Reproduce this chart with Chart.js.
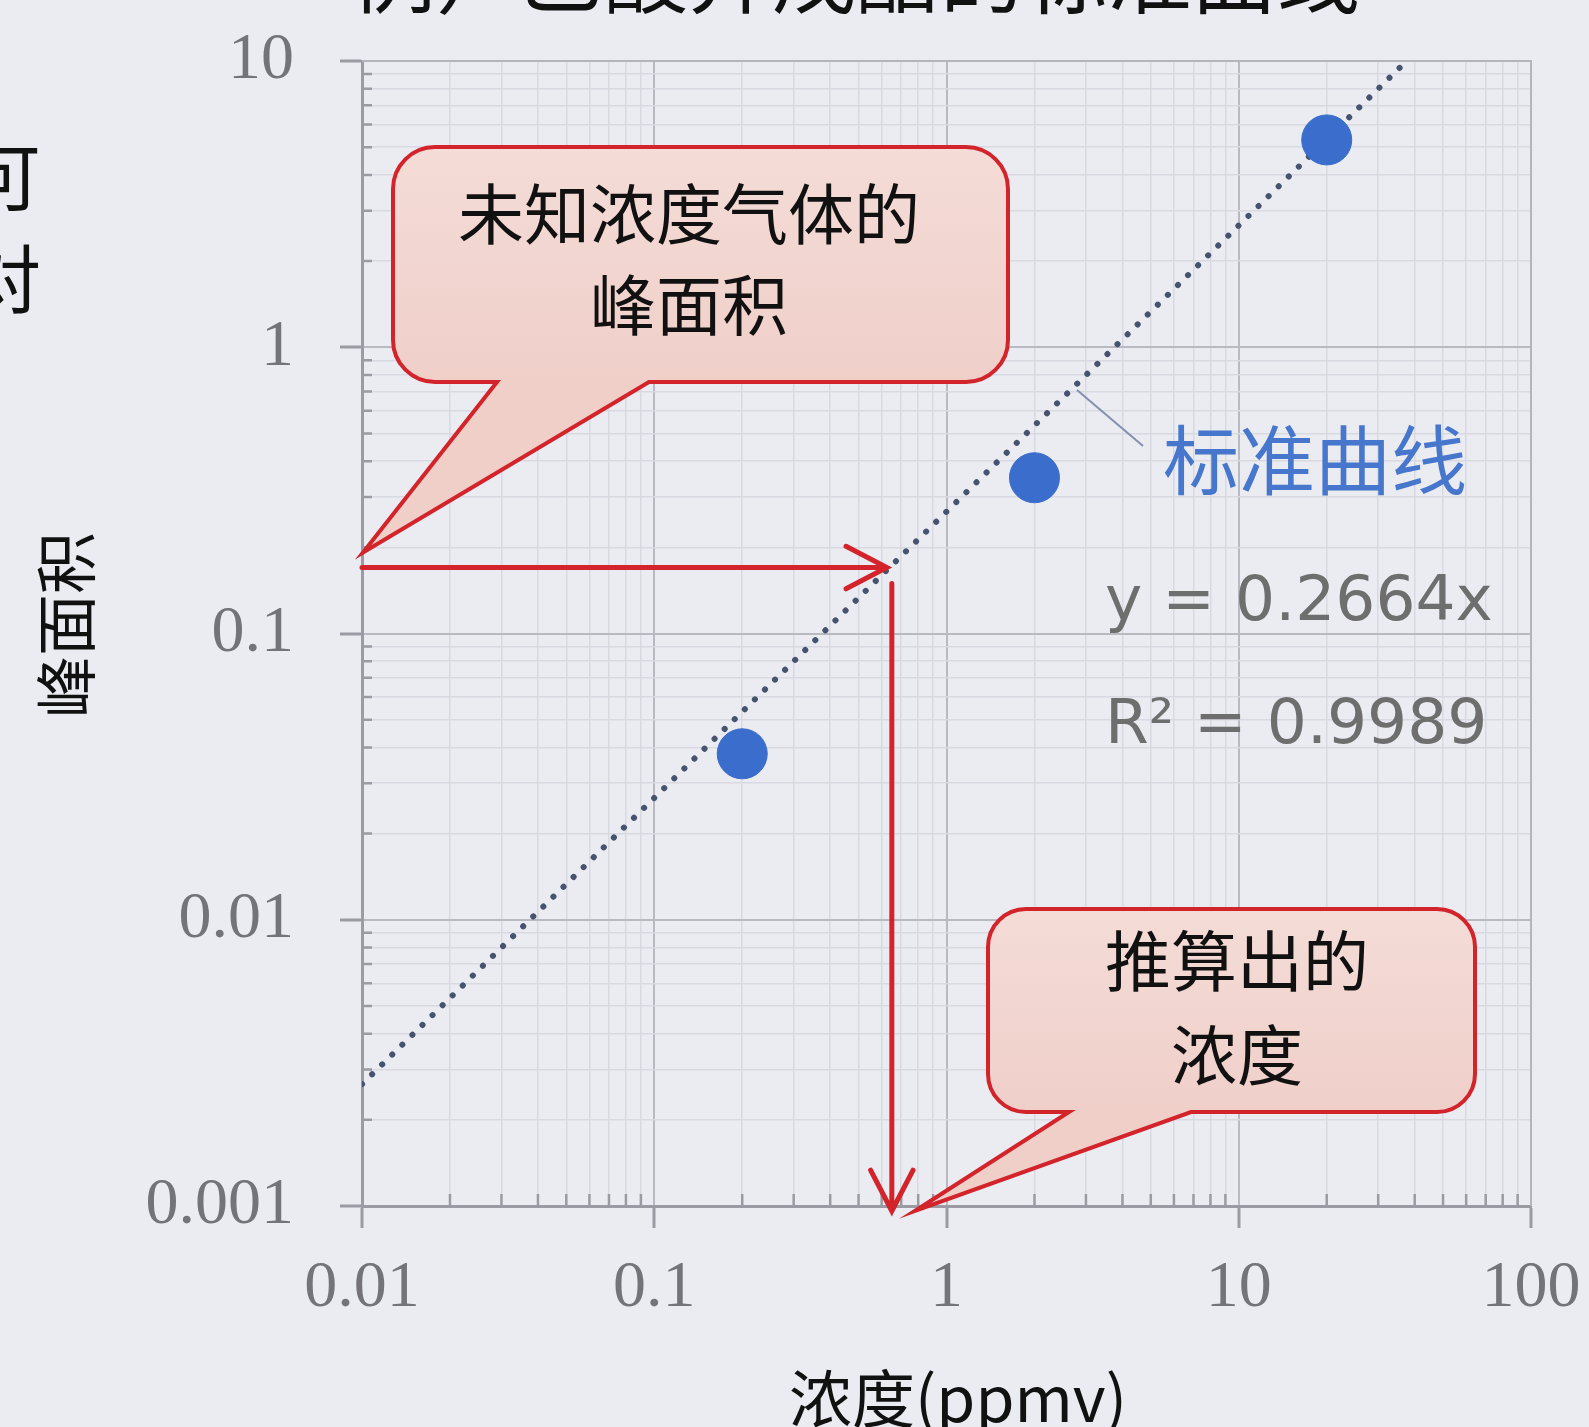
<!DOCTYPE html>
<html>
<head>
<meta charset="utf-8">
<script src="https://cdn.jsdelivr.net/npm/chart.js@4.4.1/dist/chart.umd.min.js"></script>
<style>
  html, body { margin: 0; padding: 0; background: #ebebf2; overflow: hidden; }
  #wrap { position: relative; width: 1589px; height: 1427px; }
</style>
</head>
<body>
<div id="wrap"><canvas id="c"></canvas></div>
<script>
// Calibration standards: concentration (ppmv) vs. peak area
const concentrations = [0.2, 2, 20];
const peakAreas = [0.038, 0.35, 5.3];

// Fitted calibration line y = 0.2664x, end points on the plot frame
const trendConc = [0.01, 37.54];
const trendArea = [0.002664, 10];

const unknownPeakArea = 0.17;
const estimatedConc = 0.65;

// Axis decades and their labels
const xTickValues = [0.01, 0.1, 1, 10, 100];
const xTickLabels = ['0.01', '0.1', '1', '10', '100'];
const yTickValues = [0.001, 0.01, 0.1, 1, 10];
const yTickLabels = ['0.001', '0.01', '0.1', '1', '10'];

const equationText = 'y = 0.2664x';
const r2Text = 'R\u00b2 = 0.9989';
const curveLabel = '标准曲线';
const titleText = '例）乙酸异戊酯的标准曲线';
const xTitle = '浓度(ppmv)';
const yTitle = '峰面积';
const callout1Lines = ['未知浓度气体的', '峰面积'];
const callout2Lines = ['推算出的', '浓度'];

const CJK = '"Noto Sans CJK SC", "Noto Sans", sans-serif';
const NUM = '"Liberation Serif", "DejaVu Serif", serif';
const RED = '#d3242b';
const MAJOR_GRID = '#b9b9c2';
const MINOR_GRID = '#d9d9e2';
const AXIS = '#9b9ba4';

// Decade ticks flagged major, with 2..9 minors in between
function logTicks(decades) {
  const out = [];
  for (let i = 0; i < decades.length; i++) {
    out.push({ value: decades[i], major: true });
    if (i < decades.length - 1) {
      for (let m = 2; m <= 9; m++) out.push({ value: m * decades[i], major: false });
    }
  }
  return out;
}

function axisOptions(values, labels, isX) {
  return {
    type: 'logarithmic',
    position: isX ? 'bottom' : 'left',
    min: values[0],
    max: values[values.length - 1],
    afterBuildTicks: s => { s.ticks = logTicks(values); },
    afterFit: s => {
      if (isX) s.height = 221; else s.width = 362;
      // the frame margins are set by layout.padding alone
      s.paddingLeft = s.paddingRight = s.paddingTop = s.paddingBottom = 0;
    },
    ticks: {
      autoSkip: false,
      maxRotation: 0,
      minRotation: 0,
      padding: isX ? 21 : 46,
      color: '#747478',
      font: { family: NUM, size: 66 },
      callback: (v) => { const k = values.indexOf(v); return k >= 0 ? labels[k] : ''; }
    },
    grid: {
      color: c => (c.tick && c.tick.major) ? MAJOR_GRID : MINOR_GRID,
      lineWidth: c => (c.tick && c.tick.major) ? 2 : 1.5,
      tickLength: 22,
      tickWidth: 3,
      tickColor: c => (c.tick && c.tick.major) ? AXIS : 'rgba(0,0,0,0)'
    },
    border: { display: true, color: AXIS, width: 3 }
  };
}

function drawCallout(ctx, box, tailA, tailB, tip, lines, textX, baselines) {
  const { x, y, w, h, r } = box;
  ctx.save();
  ctx.beginPath();
  ctx.moveTo(x + r, y);
  ctx.lineTo(x + w - r, y);
  ctx.arcTo(x + w, y, x + w, y + r, r);
  ctx.lineTo(x + w, y + h - r);
  ctx.arcTo(x + w, y + h, x + w - r, y + h, r);
  ctx.lineTo(tailB, y + h);
  ctx.lineTo(tip.x, tip.y);
  ctx.lineTo(tailA, y + h);
  ctx.lineTo(x + r, y + h);
  ctx.arcTo(x, y + h, x, y + h - r, r);
  ctx.lineTo(x, y + r);
  ctx.arcTo(x, y, x + r, y, r);
  ctx.closePath();
  const g = ctx.createLinearGradient(0, y, 0, y + h);
  g.addColorStop(0, '#f4dcd7');
  g.addColorStop(1, '#f0cfc9');
  ctx.fillStyle = g;
  ctx.fill();
  ctx.lineWidth = 4;
  ctx.lineJoin = 'miter';
  ctx.strokeStyle = RED;
  ctx.stroke();
  ctx.fillStyle = '#111';
  ctx.font = '66px ' + CJK;
  ctx.textAlign = 'center';
  ctx.textBaseline = 'alphabetic';
  lines.forEach((t, i) => ctx.fillText(t, textX, baselines[i]));
  ctx.restore();
}

function arrow(ctx, x1, y1, x2, y2) {
  const a = Math.atan2(y2 - y1, x2 - x1);
  const len = 46, half = 0.48;
  ctx.beginPath();
  ctx.moveTo(x1, y1);
  ctx.lineTo(x2, y2);
  ctx.moveTo(x2 - len * Math.cos(a - half), y2 - len * Math.sin(a - half));
  ctx.lineTo(x2, y2);
  ctx.lineTo(x2 - len * Math.cos(a + half), y2 - len * Math.sin(a + half));
  ctx.stroke();
}

const decorations = {
  id: 'decorations',
  beforeDraw(chart) {
    const ctx = chart.ctx;
    ctx.save();
    ctx.fillStyle = '#ebebf2';
    ctx.fillRect(0, 0, chart.width, chart.height);
    ctx.restore();
  },
  beforeDatasetsDraw(chart) {
    const { ctx, chartArea: a, scales: { x, y } } = chart;
    ctx.save();
    // frame on the top and right of the plot
    ctx.strokeStyle = '#b4b4bd';
    ctx.lineWidth = 2;
    ctx.beginPath();
    ctx.moveTo(a.left, a.top); ctx.lineTo(a.right, a.top); ctx.lineTo(a.right, a.bottom);
    ctx.stroke();
    // inward minor tick marks
    ctx.strokeStyle = AXIS;
    ctx.lineWidth = 2.5;
    ctx.beginPath();
    x.ticks.forEach(t => {
      if (t.major) return;
      const px = x.getPixelForValue(t.value);
      ctx.moveTo(px, a.bottom); ctx.lineTo(px, a.bottom - 12);
    });
    y.ticks.forEach(t => {
      if (t.major) return;
      const py = y.getPixelForValue(t.value);
      ctx.moveTo(a.left, py); ctx.lineTo(a.left + 10, py);
    });
    ctx.stroke();
    ctx.restore();
  },
  afterDatasetsDraw(chart) {
    const { ctx, chartArea: a, scales: { x, y } } = chart;
    const ya = y.getPixelForValue(unknownPeakArea);
    const xa = x.getPixelForValue(estimatedConc);

    // read-off arrows
    ctx.save();
    ctx.strokeStyle = RED;
    ctx.lineWidth = 5;
    ctx.lineCap = 'round';
    ctx.lineJoin = 'miter';
    arrow(ctx, a.left, ya, xa - 5, ya);
    arrow(ctx, xa, ya + 16, xa, a.bottom + 5);
    ctx.restore();

    // speech-bubble callouts
    drawCallout(ctx, { x: 393, y: 147, w: 615, h: 235, r: 42 }, 497, 649,
      { x: a.left + 1, y: ya - 15 }, callout1Lines, 689, [239, 330]);
    drawCallout(ctx, { x: 988, y: 909, w: 487, h: 203, r: 38 }, 1069, 1191,
      { x: xa + 23, y: a.bottom + 5 }, callout2Lines, 1237, [986, 1080]);

    // calibration line label with leader
    ctx.save();
    ctx.strokeStyle = '#8391ad';
    ctx.lineWidth = 2;
    ctx.beginPath();
    ctx.moveTo(1077, 390); ctx.lineTo(1143, 446);
    ctx.stroke();
    ctx.fillStyle = '#4677cc';
    ctx.font = '76px ' + CJK;
    ctx.textAlign = 'left';
    ctx.textBaseline = 'alphabetic';
    ctx.fillText(curveLabel, 1163, 489);

    // regression equation
    ctx.fillStyle = '#6e6e6e';
    ctx.font = '63px "DejaVu Sans", sans-serif';
    ctx.fillText(equationText, 1105, 620);
    ctx.fillText(r2Text, 1105, 743);
    ctx.restore();
  },
  afterDraw(chart) {
    const ctx = chart.ctx;
    ctx.save();
    ctx.fillStyle = '#111';
    ctx.textBaseline = 'alphabetic';
    // heading, running off the top edge
    ctx.font = '84px ' + CJK;
    ctx.textAlign = 'center';
    ctx.fillText(titleText, 856, 7);
    // column of text running off the left edge
    ctx.font = '74px ' + CJK;
    ctx.textAlign = 'left';
    ctx.fillText('可', -33, 205);
    ctx.fillText('对', -33, 307);
    // axis titles
    ctx.font = '63px ' + CJK;
    ctx.textAlign = 'center';
    ctx.fillText(xTitle, 958, 1422);
    ctx.translate(66, 625);
    ctx.rotate(-Math.PI / 2);
    ctx.font = '62px ' + CJK;
    ctx.textBaseline = 'middle';
    ctx.fillText(yTitle, 0, 0);
    ctx.restore();
  }
};

new Chart(document.getElementById('c'), {
  type: 'scatter',
  data: {
    datasets: [
      {
        label: 'standards',
        data: concentrations.map((c, i) => ({ x: c, y: peakAreas[i] })),
        pointRadius: 25,
        pointHoverRadius: 25,
        pointBackgroundColor: '#3a6dcc',
        pointBorderColor: '#3a6dcc',
        pointBorderWidth: 1,
        showLine: false
      },
      {
        label: 'calibration',
        data: trendConc.map((c, i) => ({ x: c, y: trendArea[i] })),
        showLine: true,
        pointRadius: 0,
        borderColor: '#46536e',
        borderWidth: 6,
        borderDash: [0.1, 14],
        borderCapStyle: 'round',
        fill: false
      }
    ]
  },
  options: {
    responsive: true,
    maintainAspectRatio: false,
    animation: false,
    layout: { padding: { left: 0, top: 61, right: 58, bottom: 0 } },
    plugins: { legend: { display: false }, tooltip: { enabled: false }, title: { display: false } },
    scales: {
      x: axisOptions(xTickValues, xTickLabels, true),
      y: axisOptions(yTickValues, yTickLabels, false)
    }
  },
  plugins: [decorations]
});
</script>
</body>
</html>
